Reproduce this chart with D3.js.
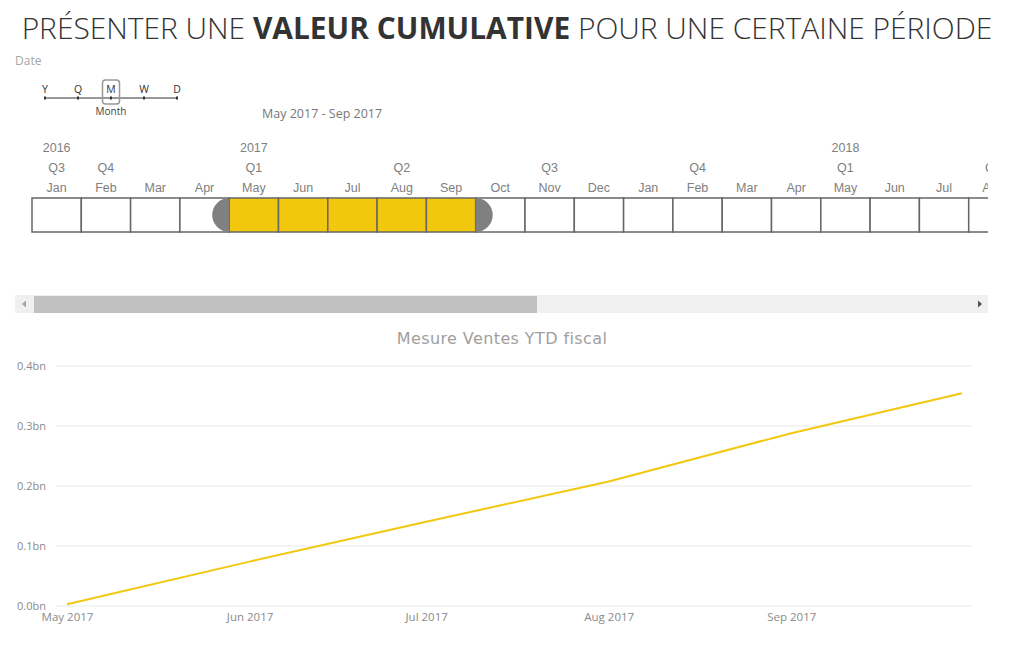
<!DOCTYPE html>
<html>
<head>
<meta charset="utf-8">
<script src="https://cdn.jsdelivr.net/npm/d3@7"></script>
<style>
  html, body { margin: 0; padding: 0; background: #fff; }
  svg { display: block; }
</style>
</head>
<body>
<div id="chart"></div>
<script>
// ---- data ----
const titleParts = [
  { text: "PRÉSENTER UNE ", bold: false },
  { text: "VALEUR CUMULATIVE", bold: true },
  { text: " POUR UNE CERTAINE PÉRIODE", bold: false }
]
const granularity = ["Y", "Q", "M", "W", "D"]
const granularityActive = "M"
const rangeLabel = "May 2017 - Sep 2017"

const timelineMonths = ["Jan", "Feb", "Mar", "Apr", "May", "Jun", "Jul", "Aug", "Sep", "Oct",
                        "Nov", "Dec", "Jan", "Feb", "Mar", "Apr", "May", "Jun", "Jul", "Aug"]
const timelineQuarters = [
  { cell: 0, label: "Q3" }, { cell: 1, label: "Q4" }, { cell: 4, label: "Q1" },
  { cell: 7, label: "Q2" }, { cell: 10, label: "Q3" }, { cell: 13, label: "Q4" },
  { cell: 16, label: "Q1" }, { cell: 19, label: "Q2" }
]
const timelineYears = [
  { cell: 0, label: "2016" }, { cell: 4, label: "2017" }, { cell: 16, label: "2018" }
]
const selectedCells = [4, 8]

const chartTitle = "Mesure Ventes YTD fiscal"
const salesDates = ["2017-05-01", "2017-06-01", "2017-07-01", "2017-08-01", "2017-09-01", "2017-09-30"]
const salesYTD = [0.003, 0.074, 0.1405, 0.2075, 0.288, 0.3545] // in bn
const yTicks = [0, 0.1, 0.2, 0.3, 0.4]

// ---- drawing ----
const width = 1024, height = 665
const svg = d3.select("#chart").append("svg")
  .attr("width", width)
  .attr("height", height)

/* ------- PAGE TITLE -------*/
const title = svg.append("text")
  .attr("x", 507)
  .attr("y", 39)
  .attr("text-anchor", "middle")
  .style("font-family", "'Open Sans', 'Noto Sans', sans-serif")
  .style("font-size", "34px")
  .style("fill", "#333")
title.selectAll("tspan")
  .data(titleParts)
  .join("tspan")
    .style("font-weight", d => d.bold ? 700 : 300)
    .text(d => d.text)
// fit title width to the reference span
const tw = title.node().getComputedTextLength()
title.style("font-size", (34 * 971 / tw) + "px")

/* ------- DATE SLICER HEADER -------*/
svg.append("text")
  .attr("x", 15).attr("y", 65)
  .style("font-family", "'Open Sans', sans-serif")
  .style("font-size", "12px")
  .style("fill", "#a6a6a6")
  .text("Date")

const gran = d3.scalePoint().domain(granularity).range([45, 177])
const gg = svg.append("g")
gg.append("line")
  .attr("x1", gran.range()[0]).attr("x2", gran.range()[1])
  .attr("y1", 98).attr("y2", 98)
  .attr("stroke", "#333").attr("stroke-width", 1)
gg.selectAll("rect.tick")
  .data(granularity)
  .join("rect")
    .attr("class", "tick")
    .attr("x", d => gran(d) - 1).attr("y", 96.5)
    .attr("width", 2).attr("height", 3)
    .attr("fill", "#333")
gg.selectAll("text")
  .data(granularity)
  .join("text")
    .attr("x", d => gran(d)).attr("y", 93)
    .attr("text-anchor", "middle")
    .style("font-family", "'Open Sans', sans-serif")
    .style("font-size", "10.5px")
    .style("fill", "#333")
    .text(d => d)
gg.append("rect")
  .attr("x", gran(granularityActive) - 8.5).attr("y", 80)
  .attr("width", 17).attr("height", 24).attr("rx", 3)
  .attr("fill", "none").attr("stroke", "#999").attr("stroke-width", 1.5)
gg.append("text")
  .attr("x", gran(granularityActive)).attr("y", 115)
  .attr("text-anchor", "middle")
  .style("font-family", "'Open Sans', sans-serif")
  .style("font-size", "10px")
  .style("fill", "#444")
  .text("Month")

svg.append("text")
  .attr("x", 262).attr("y", 118)
  .style("font-family", "'Open Sans', sans-serif")
  .style("font-size", "12.5px")
  .style("fill", "#777")
  .text(rangeLabel)

/* ------- TIMELINE -------*/
const cellW = 49.3
const cellX = d3.scaleLinear().domain([0, 1]).range([32, 32 + cellW])
const cellTop = 198, cellH = 34

svg.append("clipPath").attr("id", "tlclip")
  .append("rect").attr("x", 0).attr("y", 130).attr("width", 988).attr("height", 110)

const tl = svg.append("g").attr("clip-path", "url(#tlclip)")
const labelStyle = sel => sel
  .attr("text-anchor", "middle")
  .style("font-family", "'Liberation Sans', Arial, sans-serif")
  .style("font-size", "12.5px")
  .style("fill", "#808080")

tl.selectAll("rect.cell")
  .data(timelineMonths)
  .join("rect")
    .attr("class", "cell")
    .attr("x", (d, i) => cellX(i)).attr("y", cellTop)
    .attr("width", cellW).attr("height", cellH)
    .attr("fill", (d, i) => i >= selectedCells[0] && i <= selectedCells[1] ? "#F2C80F" : "#fff")
    .attr("stroke", "#666").attr("stroke-width", 1.5)

// selection handles
const hw = 17
tl.append("path")
  .attr("fill", "#808080")
  .attr("d", () => {
    const x = cellX(selectedCells[0]), r = cellH / 2
    return `M${x},${cellTop} L${x - hw + r},${cellTop} A${r},${r} 0 0 0 ${x - hw + r},${cellTop + cellH} L${x},${cellTop + cellH} Z`
  })
tl.append("path")
  .attr("fill", "#808080")
  .attr("d", () => {
    const x = cellX(selectedCells[1] + 1), r = cellH / 2
    return `M${x},${cellTop} L${x + hw - r},${cellTop} A${r},${r} 0 0 1 ${x + hw - r},${cellTop + cellH} L${x},${cellTop + cellH} Z`
  })

tl.selectAll("text.month")
  .data(timelineMonths)
  .join("text")
    .attr("class", "month")
    .attr("x", (d, i) => cellX(i + 0.5)).attr("y", 192)
    .call(labelStyle)
    .text(d => d)
tl.selectAll("text.quarter")
  .data(timelineQuarters)
  .join("text")
    .attr("class", "quarter")
    .attr("x", d => cellX(d.cell + 0.5)).attr("y", 172)
    .call(labelStyle)
    .text(d => d.label)
tl.selectAll("text.year")
  .data(timelineYears)
  .join("text")
    .attr("class", "year")
    .attr("x", d => cellX(d.cell + 0.5)).attr("y", 152)
    .call(labelStyle)
    .text(d => d.label)

/* ------- SCROLLBAR -------*/
svg.append("rect").attr("x", 15).attr("y", 295).attr("width", 973).attr("height", 18).attr("fill", "#f0f0f0")
svg.append("rect").attr("x", 34).attr("y", 296).attr("width", 503).attr("height", 17).attr("fill", "#c1c1c1")
svg.append("path").attr("d", "M26,300.5 L22,304 L26,307.5 Z").attr("fill", "#a3a3a3")
svg.append("path").attr("d", "M978,300.5 L982,304 L978,307.5 Z").attr("fill", "#505050")

/* ------- LINE CHART -------*/
svg.append("text")
  .attr("x", 502).attr("y", 344)
  .attr("text-anchor", "middle")
  .style("font-family", "'Comic Sans MS', 'DejaVu Sans', sans-serif")
  .style("font-size", "16px")
  .style("letter-spacing", "0.4px")
  .style("fill", "#a0a0a0")
  .text(chartTitle)

const parse = d3.timeParse("%Y-%m-%d")
const series = salesDates.map((d, i) => ({ date: parse(d), value: salesYTD[i] }))

const x = d3.scaleTime()
  .domain([parse("2017-05-01"), parse("2017-09-30")])
  .range([67, 962])
const y = d3.scaleLinear().domain([0, 0.4]).range([606, 366])

// gridlines
svg.append("g")
  .selectAll("line")
  .data(yTicks)
  .join("line")
    .attr("x1", 56).attr("x2", 972)
    .attr("y1", d => y(d)).attr("y2", d => y(d))
    .attr("stroke", "#e9e9e9").attr("stroke-width", 1)

const yAxis = svg.append("g")
  .attr("transform", "translate(46,0)")
  .call(d3.axisLeft(y).tickValues(yTicks).tickSize(0).tickPadding(0).tickFormat(d => d.toFixed(1) + "bn"))
yAxis.select(".domain").remove()
yAxis.selectAll("text")
  .style("font-family", "'Open Sans', sans-serif")
  .style("font-size", "11px")
  .style("fill", "#8a8a8a")

const xAxis = svg.append("g")
  .attr("transform", "translate(0,613)")
  .call(d3.axisBottom(x).ticks(d3.timeMonth.every(1)).tickSize(0).tickPadding(0).tickFormat(d3.timeFormat("%b %Y")))
xAxis.select(".domain").remove()
xAxis.selectAll("text")
  .style("font-family", "'Open Sans', sans-serif")
  .style("font-size", "11.5px")
  .style("fill", "#8a8a8a")

svg.append("path")
  .datum(series)
  .attr("fill", "none")
  .attr("stroke", "#F2C80F")
  .attr("stroke-width", 2)
  .attr("d", d3.line().x(d => x(d.date)).y(d => y(d.value)))
</script>
</body>
</html>
